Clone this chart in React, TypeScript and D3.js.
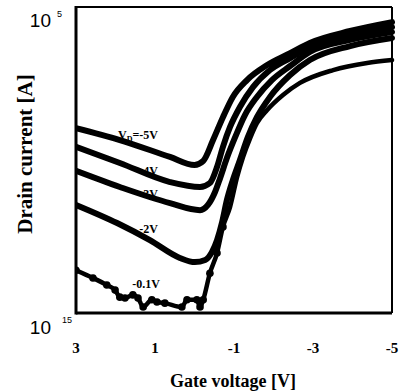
import * as d3 from 'd3';

// gate voltage (V) and drain current (A) for each drain bias
const vgD5 = [3, 1.89, 0.62, 0.0, -0.22, -0.47, -0.72, -0.97, -1.33, -1.84, -2.42, -2.92, -3.94, -5];
const idD5 = [1.1e-9, 4.5e-10, 1.26e-10, 6.9e-11, 9.3e-11, 4.5e-10, 2.5e-9, 1.15e-8, 4.1e-8, 1.27e-7, 3.1e-7, 6.7e-7, 1.64e-6, 3.2e-6];

const vgD4 = [3, 1.89, 0.62, -0.14, -0.39, -0.57, -0.72, -0.9, -1.15, -1.48, -1.91, -2.42, -2.92, -3.94, -5];
const idD4 = [2.7e-10, 8.0e-11, 1.9e-11, 1.31e-11, 1.77e-11, 5.9e-11, 2.7e-10, 1.2e-9, 5.4e-9, 2.4e-8, 8.7e-8, 2.15e-7, 4.9e-7, 1.13e-6, 2.2e-6];

const vgD3 = [3, 1.89, 0.62, -0.14, -0.34, -0.52, -0.65, -0.82, -1.03, -1.28, -1.58, -1.96, -2.42, -2.92, -3.94, -5];
const idD3 = [4.4e-11, 1.31e-11, 3.9e-12, 2.3e-12, 3.4e-12, 9.0e-12, 2.6e-11, 1.16e-10, 5.6e-10, 3.0e-9, 1.15e-8, 4.1e-8, 1.18e-7, 3.4e-7, 8.4e-7, 1.52e-6];

const vgD2 = [3, 1.96, 1.13, 0.37, -0.01, -0.27, -0.44, -0.57, -0.7, -0.82, -0.97, -1.15, -1.35, -1.58, -1.91, -2.42, -2.92, -3.94, -5];
const idD2 = [3.4e-12, 8.7e-13, 2.4e-13, 6.3e-14, 4.6e-14, 5.4e-14, 9.8e-14, 2.4e-13, 9.4e-13, 4.9e-12, 2.2e-11, 1.0e-10, 5.6e-10, 2.5e-9, 1.15e-8, 6.0e-8, 1.85e-7, 5.3e-7, 9.7e-7];

const vgD01 = [3, 2.57, 2.22, 2.01, 1.89, 1.76, 1.56, 1.43, 1.3, 1.08, 0.95, 0.75, 0.32, 0.19, -0.06, -0.14, -0.22, -0.39, -0.57, -0.72, -0.9, -1.08, -1.23, -1.41, -1.58, -1.84, -2.24, -2.67, -3.51, -4.37, -5];
const idD01 = [2.5e-14, 1.4e-14, 8.2e-15, 5.6e-15, 3.3e-15, 3.1e-15, 3.9e-15, 3.1e-15, 1.57e-15, 2.7e-15, 2.3e-15, 2.1e-15, 1.57e-15, 2.7e-15, 2.7e-15, 1.57e-15, 2.7e-15, 2.0e-14, 9.1e-14, 6.5e-13, 2.9e-12, 2.8e-11, 1.25e-10, 5.2e-10, 1.6e-9, 4.3e-9, 1.33e-8, 3.3e-8, 8.7e-8, 1.48e-7, 1.85e-7];

const xTicks = [3, 1, -1, -3, -5];
const yTicks = [1e-15, 1e-5];
const yTickExp = ['15', '5'];

const W = 400;
const H = 392;
const box = { left: 76, right: 392, top: 7, bottom: 313 };

const x = d3.scaleLinear().domain([3, -5]).range([box.left, box.right]);
const y = d3.scaleLog().domain([1e-15, 1e-5]).range([box.bottom, box.top]);

const line = d3.line<[number, number]>()
  .x(d => x(d[0]))
  .y(d => y(d[1]))
  .curve(d3.curveMonotoneX);

const zip = (vg: number[], id: number[]) => vg.map((v, i) => [v, id[i]] as [number, number]);

const series = [
  { key: 'd5', pts: zip(vgD5, idD5), width: 6 },
  { key: 'd4', pts: zip(vgD4, idD4), width: 6 },
  { key: 'd3', pts: zip(vgD3, idD3), width: 6 },
  { key: 'd2', pts: zip(vgD2, idD2), width: 6 },
  { key: 'd01', pts: zip(vgD01, idD01), width: 4.5 },
];

// the -0.1V trace is noisy below threshold, shown as loose dots there
const noisyDots = series[4].pts.filter(d => d[0] > -0.75);

const serif = "'Liberation Serif', 'Times New Roman', serif";
const sans = "'Liberation Sans', Arial, sans-serif";

const App = () => {
  return (
    <svg width={W} height={H} style={{ position: 'absolute', left: 0, top: 0, background: '#fff' }}>
      <defs>
        <clipPath id="plot">
          <rect x={box.left} y={box.top - 4} width={box.right - box.left + 4} height={box.bottom - box.top + 4} />
        </clipPath>
      </defs>

      {/* curves */}
      <g clipPath="url(#plot)">
        {series.map(s => (
          <path key={s.key} d={line(s.pts) || ''} fill="none" stroke="#000"
            strokeWidth={s.width} strokeLinecap="round" strokeLinejoin="round" />
        ))}
        {noisyDots.map((d, i) => (
          <circle key={i} cx={x(d[0])} cy={y(d[1])} r={3.8} fill="#000" />
        ))}
      </g>

      {/* frame */}
      <line x1={box.left} x2={box.right} y1={box.top} y2={box.top} stroke="#000" strokeWidth={2} />
      <line x1={box.right} x2={box.right} y1={box.top} y2={box.bottom} stroke="#000" strokeWidth={2} />
      <line x1={box.left} x2={box.right} y1={box.bottom} y2={box.bottom} stroke="#000" strokeWidth={3} />
      <line x1={box.left} x2={box.left} y1={box.top - 1} y2={box.bottom + 1.5} stroke="#000" strokeWidth={3} />

      {/* x tick labels */}
      {xTicks.map(t => (
        <text key={t} x={x(t)} y={353} textAnchor="middle" fontFamily={serif}
          fontWeight="bold" fontSize={15}>{t > 0 ? String(t) : '-' + Math.abs(t)}</text>
      ))}

      {/* y tick labels */}
      {yTicks.map((t, i) => (
        <g key={t}>
          <text x={51} y={y(t) + (i === 0 ? 21 : 20)} textAnchor="end" fontFamily={sans}
            fontSize={19}>10</text>
          <text x={i === 0 ? 62 : 57} y={y(t) + 10} fontFamily={sans}
            fontSize={9}>{yTickExp[i]}</text>
        </g>
      ))}

      {/* axis titles */}
      <text x={233} y={387} textAnchor="middle" fontFamily={serif} fontWeight="bold"
        fontSize={18}>Gate voltage [V]</text>
      <text transform="translate(32,154) rotate(-90)" textAnchor="middle" fontFamily={serif}
        fontWeight="bold" fontSize={21}>Drain current [A]</text>

      {/* curve labels */}
      <g fontFamily={serif} fontWeight="bold" fontSize={12} textAnchor="end">
        <text x={158} y={139}>
          V<tspan fontSize={8} dy={3}>D</tspan><tspan dy={-3}>=-5V</tspan>
        </text>
        <text x={158} y={175}>-4V</text>
        <text x={158} y={198}>-3V</text>
        <text x={158} y={233}>-2V</text>
        <text x={160} y={288}>-0.1V</text>
      </g>
    </svg>
  );
};

export default App;
